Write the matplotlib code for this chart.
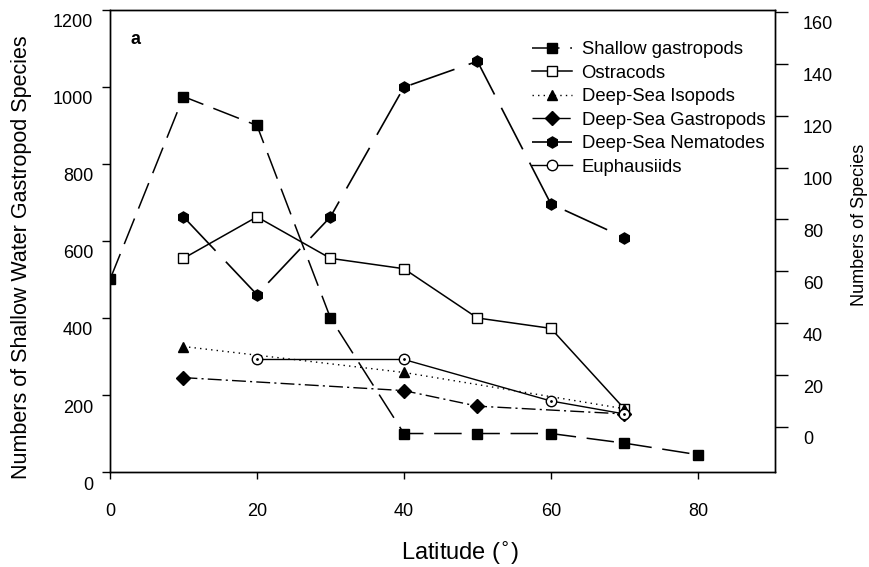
import matplotlib
matplotlib.use('Agg')
import matplotlib.pyplot as plt
from matplotlib.transforms import ScaledTranslation

plt.rcParams['font.family'] = ['Liberation Sans', 'DejaVu Sans']

# shallow water gastropods (left axis)
lat_shallow = [0, 10, 20, 30, 40, 50, 60, 70, 80]
shallow = [500, 975, 900, 400, 100, 100, 100, 75, 45]

# other groups (right axis)
lat_ostra = [10, 20, 30, 40, 50, 60, 70]
ostracods = [65, 81, 65, 61, 42, 38, 7]
lat_iso = [10, 40, 70]
isopods = [31, 21, 7]
lat_dsg = [10, 40, 50, 70]
ds_gastropods = [19, 14, 8, 5]
lat_nema = [10, 20, 30, 40, 50, 60, 70]
nematodes = [81, 51, 81, 131, 141, 86, 73]
lat_euph = [20, 40, 60, 70]
euphausiids = [26, 26, 10, 5]

left_ticks = [0, 200, 400, 600, 800, 1000, 1200]
right_ticks = [0, 20, 40, 60, 80, 100, 120, 140, 160]
x_ticks = [0, 20, 40, 60, 80]

fig = plt.figure(figsize=(8.69, 5.67), dpi=100)
ax = fig.add_axes([0.1266, 0.1675, 0.7652, 0.815])
ax2 = ax.twinx()

h1, = ax.plot(lat_shallow, shallow, color='black', lw=1.1, dashes=(18, 7),
              marker='s', ms=6.5, mfc='black', label='Shallow gastropods')
h2, = ax2.plot(lat_ostra, ostracods, color='black', lw=1.1, ls='-',
               marker='s', ms=6.5, mfc='white', label='Ostracods')
h3, = ax2.plot(lat_iso, isopods, color='black', lw=1.0, ls=(0, (1, 3)),
               marker='^', ms=7, mfc='black', label='Deep-Sea Isopods')
h4, = ax2.plot(lat_dsg, ds_gastropods, color='black', lw=1.0,
               ls=(0, (10, 3, 1.5, 3)), marker='D', ms=7, mfc='black',
               label='Deep-Sea Gastropods')
h5, = ax2.plot(lat_nema, nematodes, color='black', lw=1.2, dashes=(28, 9),
               marker='h', ms=8, mfc='black', label='Deep-Sea Nematodes')
h6, = ax2.plot(lat_euph, euphausiids, color='black', lw=1.0, ls='-',
               marker='o', ms=7.5, mfc='white', label='Euphausiids')
ax2.plot(lat_euph, euphausiids, ls='none', marker='.', ms=2, color='black')

ax.set_xlim(0, 90.5)
ax.set_ylim(0, 1200)
ax2.set_ylim(-17.4, 160.8)
ax.set_xticks(x_ticks)
ax.set_yticks(left_ticks)
ax2.set_yticks(right_ticks)

ax.tick_params(axis='y', direction='out', length=6, width=1, labelsize=13, pad=6)
ax.tick_params(axis='x', direction='out', length=5, width=1, labelsize=13, pad=17)
ax2.tick_params(axis='y', direction='out', length=9, width=1, labelsize=13, pad=11)

# labels in the scan sit a little below their ticks
shift = ScaledTranslation(0, -0.11, fig.dpi_scale_trans)
for lab in ax.get_yticklabels() + ax2.get_yticklabels():
    lab.set_transform(lab.get_transform() + shift)

ax.set_xlabel('Latitude ($^{\\circ}$)', fontsize=17)
ax.xaxis.set_label_coords(0.526, -0.146)
ax.set_ylabel('Numbers of Shallow Water Gastropod Species', fontsize=15.5)
ax.yaxis.set_label_coords(-0.117, 0.465)
ax2.set_ylabel('Numbers of Species', fontsize=13)
ax2.yaxis.set_label_coords(1.115, 0.535)

for spine in list(ax.spines.values()) + list(ax2.spines.values()):
    spine.set_linewidth(1.0)

ax.text(0.038, 0.935, 'a', transform=ax.transAxes, fontsize=13,
        fontweight='bold', va='center', ha='center')

ax2.legend(handles=[h1, h2, h3, h4, h5, h6], loc='upper left',
           bbox_to_anchor=(0.623, 0.948), frameon=False, fontsize=13.3,
           handlelength=2.2, handletextpad=0.5, labelspacing=0.35,
           borderaxespad=0)

fig.savefig('out.png', dpi=100, facecolor='white')
